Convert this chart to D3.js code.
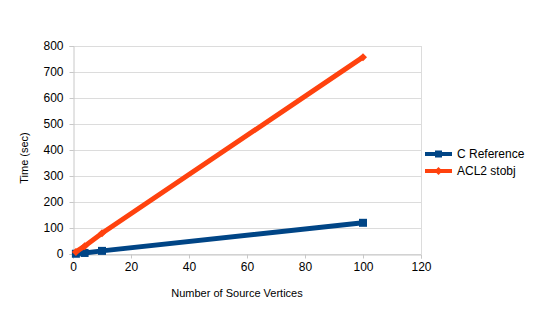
<!DOCTYPE html>
<head>
  <meta charset="utf-8">
  <script src="https://d3js.org/d3.v7.min.js"></script>
  <style>
    body { margin:0; background:#fff; }
    text { font-family: "Liberation Sans", Arial, sans-serif; font-size:11px; fill:#000; }
  </style>
</head>
<body>
<script>
var vertices = [1, 4, 10, 100];
var cRef = [1, 4, 12, 120];
var acl2 = [8, 30, 80, 757];
var xTicks = [0, 20, 40, 60, 80, 100, 120];
var yTicks = [0, 100, 200, 300, 400, 500, 600, 700, 800];

var width = 540, height = 315;
var svg = d3.select("body").append("svg")
    .attr("width", width).attr("height", height);

var x = d3.scaleLinear().domain([0, 120]).range([73, 421]);
var y = d3.scaleLinear().domain([0, 800]).range([254, 46]);

// grid
svg.selectAll(".grid").data(yTicks).enter().append("line")
    .attr("x1", x(0)).attr("x2", x(120))
    .attr("y1", d => y(d) + 0.5).attr("y2", d => y(d) + 0.5)
    .attr("stroke", "#dcdcdc");
svg.append("line")
    .attr("x1", x(120) + 0.5).attr("x2", x(120) + 0.5)
    .attr("y1", y(800)).attr("y2", y(0))
    .attr("stroke", "#dcdcdc");

var xAxis = svg.append("g").attr("transform", "translate(0," + (y(0) + 0.5) + ")")
    .call(d3.axisBottom(x).tickValues(xTicks).tickSize(4).tickPadding(4));
var yAxis = svg.append("g").attr("transform", "translate(" + (x(0) + 0.5) + ",0)")
    .call(d3.axisLeft(y).tickValues(yTicks).tickSize(4).tickPadding(4));
[xAxis, yAxis].forEach(function(g) {
  g.select(".domain").attr("stroke", "#c8c8c8");
  g.selectAll(".tick line").attr("stroke", "#c8c8c8");
  g.selectAll("text").style("font-family", '"Liberation Sans", Arial, sans-serif').style("font-size", "12px").attr("fill", "#000");
});
yAxis.selectAll("text").attr("x", -10);

svg.append("text").attr("x", 237).attr("y", 297).attr("text-anchor", "middle")
    .text("Number of Source Vertices");
svg.append("text").attr("transform", "translate(28,158) rotate(-90)")
    .attr("text-anchor", "middle").text("Time (sec)");

var series = [
  { name: "C Reference", values: cRef, color: "#004586", marker: "square" },
  { name: "ACL2 stobj", values: acl2, color: "#ff420e", marker: "diamond" }
];

var line = d3.line().x(d => x(d[0])).y(d => y(d[1]));

function drawMarker(g, kind, cx, cy, color) {
  if (kind === "square") {
    g.append("rect").attr("x", cx - 4).attr("y", cy - 4).attr("width", 8).attr("height", 8).attr("fill", color);
  } else {
    g.append("path").attr("d", "M" + cx + "," + (cy - 4) + "L" + (cx + 4) + "," + cy + "L" + cx + "," + (cy + 4) + "L" + (cx - 4) + "," + cy + "Z")
      .attr("fill", color);
  }
}

series.forEach(function(s) {
  var pts = vertices.map((v, i) => [v, s.values[i]]);
  svg.append("path").datum(pts).attr("d", line)
    .attr("fill", "none").attr("stroke", s.color).attr("stroke-width", 5);
  var g = svg.append("g");
  pts.forEach(p => drawMarker(g, s.marker, x(p[0]), y(p[1]), s.color));
});

// legend
series.forEach(function(s, i) {
  var ly = 154 + i * 17;
  svg.append("line").attr("x1", 425).attr("x2", 452).attr("y1", ly).attr("y2", ly)
    .attr("stroke", s.color).attr("stroke-width", 4);
  var g = svg.append("g");
  if (s.marker === "square") {
    g.append("rect").attr("x", 435).attr("y", ly - 3.5).attr("width", 7).attr("height", 7).attr("fill", s.color);
  } else {
    drawMarker(g, "diamond", 438.5, ly, s.color);
  }
  svg.append("text").attr("x", 457).attr("y", ly + 4).style("font-size", "12px").text(s.name);
});
</script>
</body>
